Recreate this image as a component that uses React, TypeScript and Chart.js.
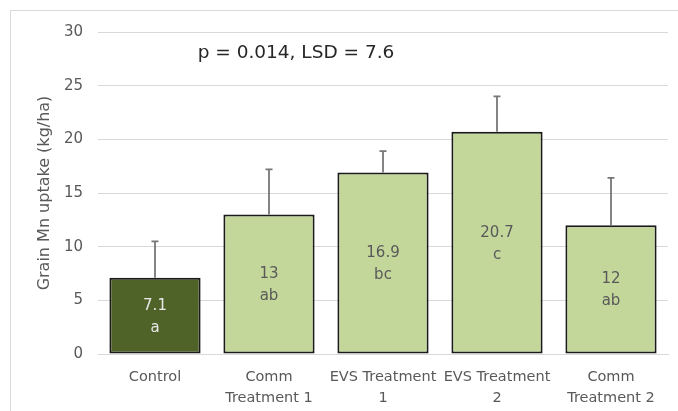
import React, { useEffect, useRef } from "react";
import { Chart, registerables } from "chart.js";

Chart.register(...registerables);

const categories: (string | string[])[] = [
  "Control",
  ["Comm", "Treatment 1"],
  ["EVS Treatment", "1"],
  ["EVS Treatment", "2"],
  ["Comm", "Treatment 2"],
];
const means = [7.1, 13, 16.9, 20.7, 12];
const errors = [3.4, 4.2, 2.0, 3.3, 4.4];
const letters = ["a", "ab", "bc", "c", "ab"];
const valueLabels = ["7.1", "13", "16.9", "20.7", "12"];
const yTicks = [0, 5, 10, 15, 20, 25, 30];
const annotationText = "p = 0.014, LSD = 7.6";

const FONT = "'DejaVu Sans', sans-serif";
const fills = ["#4f6228", "#c4d79b", "#c4d79b", "#c4d79b", "#c4d79b"];
const labelColors = ["#e8e8e8", "#595959", "#595959", "#595959", "#595959"];

const overlayPlugin = {
  id: "overlay",
  afterDatasetsDraw(chart: any) {
    const ctx = chart.ctx;
    const x = chart.scales.x;
    const y = chart.scales.y;
    const meta = chart.getDatasetMeta(0);
    ctx.save();
    // error bars
    ctx.strokeStyle = "#777777";
    ctx.lineWidth = 1.8;
    meta.data.forEach((bar: any, i: number) => {
      const cx = bar.x;
      const top = y.getPixelForValue(means[i]);
      const errTop = y.getPixelForValue(means[i] + errors[i]);
      ctx.beginPath();
      ctx.moveTo(cx, top);
      ctx.lineTo(cx, errTop);
      ctx.moveTo(cx - 3.5, errTop);
      ctx.lineTo(cx + 3.5, errTop);
      ctx.stroke();
    });
    // labels inside bars
    ctx.font = `15px ${FONT}`;
    ctx.textAlign = "center";
    ctx.textBaseline = "middle";
    meta.data.forEach((bar: any, i: number) => {
      const mid = (y.getPixelForValue(means[i]) + y.getPixelForValue(0)) / 2;
      ctx.fillStyle = labelColors[i];
      ctx.fillText(valueLabels[i], bar.x, mid - 10);
      ctx.fillText(letters[i], bar.x, mid + 12);
    });
    // annotation
    ctx.font = `18.5px ${FONT}`;
    ctx.fillStyle = "#262626";
    const ax = (x.getPixelForValue(1) + x.getPixelForValue(2)) / 2 - 30;
    ctx.fillText(annotationText, ax, y.getPixelForValue(28.05));
    ctx.restore();
  },
};

export default function App() {
  const ref = useRef<HTMLCanvasElement | null>(null);
  useEffect(() => {
    if (!ref.current) return;
    const chart = new Chart(ref.current, {
      type: "bar",
      data: {
        labels: categories,
        datasets: [
          {
            data: means,
            backgroundColor: fills,
            borderColor: "#1a1a1a",
            borderWidth: 2,
            borderSkipped: false,
            categoryPercentage: 0.8,
            barPercentage: 1.0,
          },
        ],
      },
      options: {
        animation: false,
        responsive: false,
        maintainAspectRatio: false,
        layout: { padding: { left: 0, right: 10, top: 32, bottom: 0 } },
        plugins: { legend: { display: false }, tooltip: { enabled: false } },
        scales: {
          x: {
            grid: { display: false },
            border: { display: true, color: "#d9d9d9", width: 1 },
            ticks: {
              color: "#595959",
              font: { family: FONT, size: 14.5, lineHeight: 1.45 },
              maxRotation: 0,
              autoSkip: false,
              padding: 5,
            },
            afterFit: (s: any) => {
              s.height = 57;
            },
          },
          y: {
            min: 0,
            max: 30,
            afterBuildTicks: (s: any) => {
              s.ticks = yTicks.map((v) => ({ value: v }));
            },
            grid: { color: "#d9d9d9", lineWidth: 1, drawTicks: false },
            border: { display: false },
            ticks: {
              color: "#595959",
              font: { family: FONT, size: 15 },
              padding: 15,
            },
            title: {
              display: true,
              text: "Grain Mn uptake (kg/ha)",
              color: "#595959",
              font: { family: FONT, size: 16, weight: "normal" },
              padding: { top: 35, bottom: 0 },
            },
            afterFit: (s: any) => {
              s.width = 98;
            },
          },
        },
      },
      plugins: [overlayPlugin],
    });
    return () => chart.destroy();
  }, []);
  return (
    <div style={{ position: "fixed", left: 0, top: 0, width: 678, height: 411, background: "#fff" }}>
      <div
        style={{
          position: "absolute",
          left: 10,
          top: 10,
          width: 700,
          height: 430,
          border: "1px solid #d9d9d9",
          boxSizing: "border-box",
        }}
      />
      <canvas ref={ref} width={678} height={411} style={{ position: "absolute", left: 0, top: 0 }} />
    </div>
  );
}
